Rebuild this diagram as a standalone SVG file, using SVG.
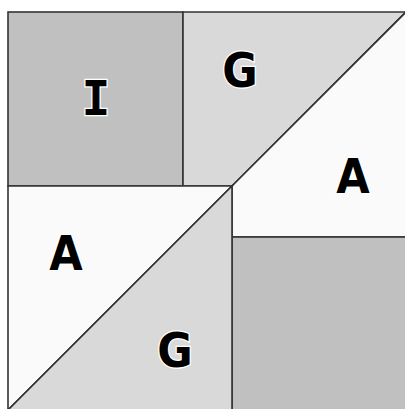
<svg xmlns="http://www.w3.org/2000/svg" width="405" height="409" viewBox="0 0 405 409">
<style>
.p{stroke:#333;stroke-width:1.6;stroke-linejoin:miter}
.d{fill:#c0c0c0}
.m{fill:#d9d9d9}
.w{fill:#fafafa}
.t{font-family:"DejaVu Sans",sans-serif;font-stretch:condensed;font-weight:bold;font-size:48px;text-anchor:middle;fill:#000;stroke:#fff;stroke-width:2.5;paint-order:stroke}
.i{font-family:"DejaVu Sans Mono",monospace;font-stretch:normal}
</style>
<rect x="0" y="0" width="405" height="409" fill="#fff"/>
<g id="piece-I">
<rect class="p d" x="8" y="12" width="175" height="174"/>
<text class="t i" x="96" y="115">I</text>
</g>
<g id="piece-G-top">
<polygon class="p m" points="183,12 406,12 232,186 183,186"/>
<text class="t" x="240" y="87">G</text>
</g>
<g id="piece-A-right">
<polygon class="p w" points="406,12 406,237 232,237 232,186"/>
<text class="t" x="353" y="193">A</text>
</g>
<g id="piece-gray">
<rect class="p d" x="232" y="237" width="175" height="174"/>
</g>
<g id="piece-A-left">
<polygon class="p w" points="8,186 232,186 8,410"/>
<text class="t" x="66" y="270">A</text>
</g>
<g id="piece-G-bottom">
<polygon class="p m" points="232,186 232,410 8,410"/>
<text class="t" x="175" y="367">G</text>
</g>
<g id="connectors"/>
</svg>
